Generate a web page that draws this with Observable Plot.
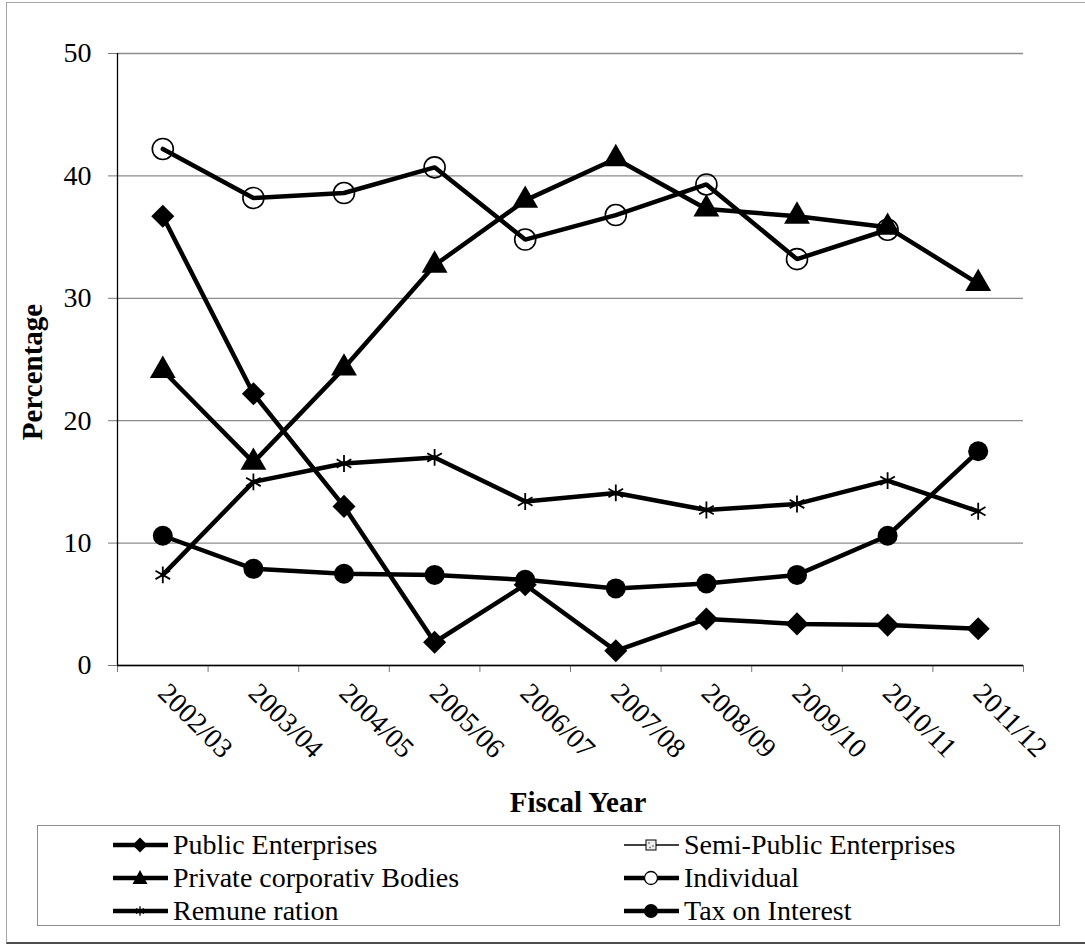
<!DOCTYPE html>
<html>
<head>
<meta charset="utf-8">
<script src="https://cdn.jsdelivr.net/npm/d3@7"></script>
<script src="https://cdn.jsdelivr.net/npm/@observablehq/plot@0.6"></script>
<style>
  html, body { margin: 0; padding: 0; background: #fff; overflow: hidden; }
  #wrap { position: relative; width: 1085px; height: 946px; font-family: "Liberation Serif", Tinos, "Times New Roman", Times, "DejaVu Serif", serif; color: #000; }
  #border { position: absolute; left: 6px; top: 2px; width: 1100px; height: 942px; box-sizing: border-box;
            border-left: 1.5px solid #a6a6a6; border-top: 1.5px solid #a6a6a6; border-bottom: 2px solid #4d4d4d; }
  #chart { position: absolute; left: 0; top: 0; }
  #ylabel { position: absolute; left: 32px; top: 372px; transform: translate(-50%, -50%) rotate(-90deg);
            font-weight: bold; font-size: 29px; white-space: nowrap; }
  #xlabel { position: absolute; left: 578px; top: 802px; transform: translate(-50%, -50%);
            font-weight: bold; font-size: 29px; white-space: nowrap; }
  #legend { position: absolute; left: 37px; top: 825px; width: 1023px; height: 101px; box-sizing: border-box;
            border: 1.5px solid #8c8c8c; }
  .item { position: absolute; display: flex; align-items: center; height: 32px; font-size: 28px; white-space: nowrap; }
  .item svg { display: block; margin-right: 3px; }
</style>
</head>
<body>
<div id="wrap">
  <div id="border"></div>
  <div id="chart"></div>
  <div id="ylabel">Percentage</div>
  <div id="xlabel">Fiscal Year</div>
  <div id="legend"></div>
</div>
<script>
const serifFont = '"Liberation Serif", Tinos, "Times New Roman", Times, "DejaVu Serif", serif';

// Fiscal years on the x axis
const years = ["2002/03", "2003/04", "2004/05", "2005/06", "2006/07",
               "2007/08", "2008/09", "2009/10", "2010/11", "2011/12"];

// Share of each source, in percent, per fiscal year
const publicEnterprises      = [36.7, 22.2, 13.0, 1.9, 6.6, 1.2, 3.8, 3.4, 3.3, 3.0];
const semiPublicEnterprises  = [null, null, null, null, null, null, null, null, null, null];
const privateCorporateBodies = [24.1, 16.6, 24.3, 32.7, 38.0, 41.4, 37.3, 36.7, 35.8, 31.2];
const individual             = [42.2, 38.2, 38.6, 40.7, 34.8, 36.8, 39.3, 33.2, 35.6, null];
const remuneration           = [7.4, 15.0, 16.5, 17.0, 13.4, 14.1, 12.7, 13.2, 15.1, 12.6];
const taxOnInterest          = [10.6, 7.9, 7.5, 7.4, 7.0, 6.3, 6.7, 7.4, 10.6, 17.5];

const yTicks = [0, 10, 20, 30, 40, 50];

// Series in drawing order, with their marker styles
const series = [
  {name: "Public Enterprises",        values: publicEnterprises,      symbol: "diamond2", r: 10.4, fill: "#000", stroke: "none", sw: 0},
  {name: "Semi-Public Enterprises",   values: semiPublicEnterprises,  symbol: "square",   r: 6,    fill: "#ddd", stroke: "#000", sw: 1},
  {name: "Private corporativ Bodies", values: privateCorporateBodies, symbol: "triangle", r: 9.6,  fill: "#000", stroke: "none", sw: 0},
  {name: "Individual",                values: individual,             symbol: "circle",   r: 10.5, fill: "none", stroke: "#000", sw: 1.6},
  {name: "Remune ration",             values: remuneration,           symbol: "asterisk", r: 8,    fill: "none", stroke: "#000", sw: 1.8},
  {name: "Tax on Interest",           values: taxOnInterest,          symbol: "circle",   r: 10,   fill: "#000", stroke: "none", sw: 0}
];

// Each fiscal year sits in the middle of its slot on a 0..n index scale
const slot = (year) => years.indexOf(year) + 0.5;

const seriesMarks = series.flatMap(s => {
  const rows = years.map((year, i) => ({year, value: s.values[i]})).filter(d => d.value != null);
  return [
    Plot.line(rows, {x: d => slot(d.year), y: "value", stroke: "#000", strokeWidth: 4.5, strokeLinejoin: "miter"}),
    Plot.dot(rows, {x: d => slot(d.year), y: "value", symbol: s.symbol, r: s.r, fill: s.fill, stroke: s.stroke, strokeWidth: s.sw})
  ];
});

const chart = Plot.plot({
  width: 1085,
  height: 770,
  marginTop: 53,
  marginBottom: 105,
  marginLeft: 117,
  marginRight: 62,
  x: {type: "linear", domain: [0, years.length]},
  y: {domain: [0, 50]},
  style: {fontFamily: serifFont, fontSize: "28px", color: "#000", background: "transparent", overflow: "visible"},
  marks: [
    Plot.gridY(yTicks, {stroke: "#8c8c8c", strokeOpacity: 1, strokeWidth: 1.3}),
    Plot.axisY(yTicks, {tickSize: 9, tickPadding: 17, stroke: "#777", fontSize: 28, label: null}),
    Plot.axisX(d3.range(years.length + 1), {tickSize: 7, tickFormat: () => "", stroke: "#777", label: null}),
    Plot.axisX(years.map(slot), {tickSize: 0, tickPadding: 23, tickRotate: 45, textAnchor: "start",
                                 tickFormat: v => years[Math.floor(v)], fontSize: 28, label: null}),
    Plot.ruleX([0], {stroke: "#000", strokeWidth: 1.3}),
    Plot.ruleY([0], {stroke: "#000", strokeWidth: 1.3}),
    ...seriesMarks
  ]
});
chart.querySelectorAll("text").forEach(t => t.setAttribute("font-family", serifFont));
document.getElementById("chart").appendChild(chart);

// Legend: two columns, three rows
const legend = document.getElementById("legend");
const colText = [172, 683];   // page x of legend text per column
const rowMid = [844, 877, 910]; // page y of legend row centres
const legendBox = {left: 37, top: 825};

function legendSymbol(s) {
  const svg = d3.create("svg").attr("width", 58).attr("height", 32);
  const cy = 16, cx = 28;
  svg.append("line").attr("x1", 1).attr("x2", 56).attr("y1", cy).attr("y2", cy)
    .attr("stroke", "#000").attr("stroke-width", s.symbol === "square" ? 1.5 : 4.5);
  const g = svg.append("g").attr("transform", `translate(${cx},${cy})`);
  if (s.symbol === "diamond2") {
    g.append("path").attr("d", "M0,-7.5L7.5,0L0,7.5L-7.5,0Z").attr("fill", "#000");
  } else if (s.symbol === "triangle") {
    g.append("path").attr("d", "M0,-8L7.5,6L-7.5,6Z").attr("fill", "#000");
  } else if (s.symbol === "square") {
    g.append("rect").attr("x", -5).attr("y", -5).attr("width", 10).attr("height", 10)
      .attr("fill", "#eee").attr("stroke", "#000").attr("stroke-width", 1);
    [[-2, -2], [2, 1], [-1, 2.5]].forEach(([x, y]) =>
      g.append("rect").attr("x", x - 0.7).attr("y", y - 0.7).attr("width", 1.4).attr("height", 1.4).attr("fill", "#555"));
  } else if (s.symbol === "asterisk") {
    g.append("path").attr("d", d3.symbol(d3.symbolAsterisk, 60)()).attr("fill", "none").attr("stroke", "#000").attr("stroke-width", 1.3);
  } else if (s.fill === "none") {
    g.append("circle").attr("r", 6.5).attr("fill", "#fff").attr("stroke", "#000").attr("stroke-width", 1.3);
  } else {
    g.append("circle").attr("r", 7).attr("fill", "#000");
  }
  return svg.node();
}

series.forEach((s, i) => {
  const col = i % 2, row = Math.floor(i / 2);
  const item = document.createElement("div");
  item.className = "item";
  item.style.left = (colText[col] - 61 - legendBox.left) + "px";
  item.style.top = (rowMid[row] - 16 - legendBox.top) + "px";
  item.appendChild(legendSymbol(s));
  const label = document.createElement("span");
  label.textContent = s.name;
  item.appendChild(label);
  legend.appendChild(item);
});
</script>
</body>
</html>
